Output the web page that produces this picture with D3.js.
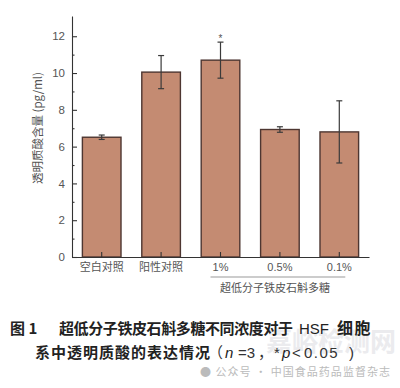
<!DOCTYPE html>
<html>
<head>
<meta charset="utf-8">
<script src="https://cdn.jsdelivr.net/npm/d3@7"></script>
<style>
  body { margin: 0; background: #fff; }
  svg { display: block; }
  .axis text { font-family: "Liberation Sans", Arial, "Noto Sans CJK SC", sans-serif; fill: #555; }
  .cjk { font-family: "Noto Sans CJK SC", sans-serif; }
  .lat { font-family: "Liberation Sans", Arial, sans-serif; }
</style>
</head>
<body>
<div id="chart"></div>
<script>
// data
const groups = ["空白对照", "阳性对照", "1%", "0.5%", "0.1%"];
const means = [6.51, 10.05, 10.7, 6.93, 6.8];
const errs = [0.12, 0.9, 0.98, 0.15, 1.69];
const signif = ["", "", "*", "", ""];
const yMajor = [0, 2, 4, 6, 8, 10, 12];
const yMinor = [1, 3, 5, 7, 9, 11];

const width = 400, height = 388;
const svg = d3.select("#chart").append("svg")
  .attr("width", width).attr("height", height);

// scales
const x = d3.scaleBand().domain(groups).range([72, 369]).paddingInner(0.35).paddingOuter(0.175);
const y = d3.scaleLinear().domain([0, 13.1]).range([257, 16]);

const barFill = "#c48b72", barEdge = "#4d3631";

// bars
svg.append("g").selectAll("rect")
  .data(groups)
  .join("rect")
  .attr("x", (d) => x(d))
  .attr("y", (d, i) => y(means[i]))
  .attr("width", x.bandwidth())
  .attr("height", (d, i) => y(0) - y(means[i]))
  .attr("fill", barFill)
  .attr("stroke", barEdge)
  .attr("stroke-width", 1.4);

// error bars
const eb = svg.append("g").attr("stroke", "#3a3a3a").attr("stroke-width", 1.2);
groups.forEach((g, i) => {
  const cx = x(g) + x.bandwidth() / 2;
  const hi = y(means[i] + errs[i]), lo = y(means[i] - errs[i]);
  eb.append("line").attr("x1", cx).attr("x2", cx).attr("y1", hi).attr("y2", lo);
  eb.append("line").attr("x1", cx - 3).attr("x2", cx + 3).attr("y1", hi).attr("y2", hi);
  eb.append("line").attr("x1", cx - 3).attr("x2", cx + 3).attr("y1", lo).attr("y2", lo);
  if (signif[i]) {
    svg.append("text").attr("class", "lat")
      .attr("x", cx).attr("y", hi - 0.5)
      .attr("text-anchor", "middle")
      .style("font-size", "10px").style("fill", "#555")
      .text(signif[i]);
  }
});

// y axis
const yAxis = svg.append("g").attr("class", "axis")
  .attr("transform", "translate(72,0)")
  .call(d3.axisLeft(y).tickValues(yMajor).tickSizeInner(-5).tickSizeOuter(0).tickPadding(7));
yAxis.selectAll("text").style("font-size", "11.5px");
svg.append("g").attr("class", "axis")
  .attr("transform", "translate(72,0)")
  .call(d3.axisLeft(y).tickValues(yMinor).tickSizeInner(-2.5).tickSizeOuter(0).tickFormat(""))
  .select(".domain").remove();

// x axis
const xAxis = svg.append("g").attr("class", "axis")
  .attr("transform", "translate(0," + y(0) + ")")
  .call(d3.axisBottom(x).tickSizeInner(-5).tickSizeOuter(0).tickPadding(6));
xAxis.selectAll("text").style("font-size", "11px")
  .style("font-family", (d) => /%/.test(d) ? "Liberation Sans, Arial, sans-serif" : "Noto Sans CJK SC, sans-serif");
svg.selectAll(".axis path, .axis line").attr("stroke", "#333").attr("stroke-width", 1.1);

// y label
svg.append("text")
  .attr("class", "cjk")
  .attr("transform", "translate(42,128) rotate(-90)")
  .attr("text-anchor", "middle")
  .style("font-size", "11.5px").style("fill", "#555")
  .text("透明质酸含量 (pg/ml)");

// group bracket
const gx0 = x("1%") + x.bandwidth() / 2 - 10, gx1 = x("0.1%") + x.bandwidth() / 2 + 6;
svg.append("line").attr("x1", gx0).attr("x2", gx1).attr("y1", 277).attr("y2", 277)
  .attr("stroke", "#999").attr("stroke-width", 1);
svg.append("text").attr("class", "cjk")
  .attr("x", (gx0 + gx1) / 2 - 3).attr("y", 292)
  .attr("text-anchor", "middle")
  .style("font-size", "11px").style("fill", "#555")
  .text("超低分子铁皮石斛多糖");

// watermark
svg.append("text").attr("class", "cjk")
  .attr("x", 396).attr("y", 351).attr("text-anchor", "end")
  .style("font-size", "26px").style("font-weight", "bold").style("fill", "#ebebee")
  .text("嘉峪检测网");

// caption
const cap1 = svg.append("text").attr("class", "cjk")
  .attr("y", 334).style("font-size", "15px").style("fill", "#222");
cap1.append("tspan").attr("x", 10).style("font-weight", "bold").text("图 1");
cap1.append("tspan").attr("x", 59).attr("textLength", 234).style("font-weight", "bold").text("超低分子铁皮石斛多糖不同浓度对于");
cap1.append("tspan").attr("x", 299).attr("class", "lat").text("HSF");
cap1.append("tspan").attr("x", 337).style("font-weight", "bold").style("font-size", "16px").style("letter-spacing", "1.5px").text("细胞");

const cap2 = svg.append("text").attr("class", "cjk")
  .attr("y", 358).style("font-size", "15px").style("fill", "#222");
cap2.append("tspan").attr("x", 35).style("font-weight", "bold").style("letter-spacing", "1px").text("系中透明质酸的表达情况");
cap2.append("tspan").attr("x", 208).style("fill", "#333").text("（");
cap2.append("tspan").attr("x", 225).attr("class", "lat").style("font-style", "italic").text("n");
cap2.append("tspan").attr("x", 238).attr("class", "lat").style("fill", "#333").text("=3");
cap2.append("tspan").attr("x", 258).style("fill", "#333").text("，");
cap2.append("tspan").attr("x", 274).attr("class", "lat").style("fill", "#333").text("*");
cap2.append("tspan").attr("x", 282).attr("class", "lat").style("font-style", "italic").text("p");
cap2.append("tspan").attr("x", 292).attr("class", "lat").style("fill", "#333").text("<");
cap2.append("tspan").attr("x", 304).attr("class", "lat").style("fill", "#333").style("letter-spacing", "1.5px").text("0.05");
cap2.append("tspan").attr("x", 349).attr("class", "lat").style("fill", "#333").text(")");

svg.append("text").attr("class", "cjk")
  .attr("x", 200).attr("y", 376)
  .attr("textLength", 190).attr("lengthAdjust", "spacing")
  .style("font-size", "11px").style("fill", "#bbb")
  .text("● 公众号 · 中国食品药品监督杂志");
</script>
</body>
</html>
